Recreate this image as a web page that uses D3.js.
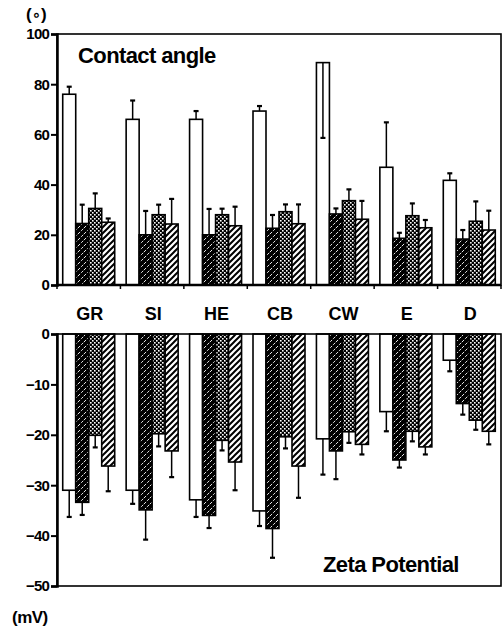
<!DOCTYPE html>
<html>
<head>
<meta charset="utf-8">
<script src="https://cdn.jsdelivr.net/npm/d3@7"></script>
<style>
  body { margin: 0; background: #fff; }
  svg { display: block; font-family: "Liberation Sans", Arial, sans-serif; font-weight: bold; }
</style>
</head>
<body>
<div id="chart"></div>
<script>
// categories (surfaces) and the four treatment series
const categories = ["GR", "SI", "HE", "CB", "CW", "E", "D"];
const seriesKeys = ["plain", "dark", "dots", "hatch"];

// contact angle (degrees) and SD
const contactPlain = [76, 66, 66, 69.3, 88.6, 46.9, 41.7];
const contactDark  = [24.5, 20, 20, 22.6, 28.3, 18.6, 18.3];
const contactDots  = [30.5, 28, 28, 29.2, 33.6, 27.6, 25.4];
const contactHatch = [25, 24.3, 23.6, 24.4, 26.2, 22.8, 21.9];
const contactPlainErr = [3, 7.5, 3.3, 2, -30, 17.9, 2.8];  // negative = drawn downward
const contactDarkErr  = [7.5, 9.5, 10.3, 5.3, 2.2, 2.2, 3.6];
const contactDotsErr  = [6, 4, 2.4, 2.9, 4.5, 4.9, 7.9];
const contactHatchErr = [1.5, 10, 7.6, 7.7, 7.3, 3.1, 7.7];

// zeta potential (mV) and SD
const zetaPlain = [-31, -31, -32.9, -35.1, -20.8, -15.4, -5.2];
const zetaDark  = [-33.4, -34.9, -36, -38.6, -23.2, -25, -13.8];
const zetaDots  = [-20.1, -19.8, -21.1, -20.4, -19.4, -19.3, -17.1];
const zetaHatch = [-26.2, -23.2, -25.4, -26.2, -21.9, -22.4, -19.3];
const zetaPlainErr = [5.3, 2.7, 3.4, 3, 7.1, 3.9, 2.2];
const zetaDarkErr  = [2.5, 5.9, 2.5, 5.8, 5.6, 1.5, 2.2];
const zetaDotsErr  = [2.4, 2.5, 2, 2.3, 2.2, 2, 1.9];
const zetaHatchErr = [5, 5.2, 5.6, 6.3, 2, 1.5, 2.6];

const contactTicks = [0, 20, 40, 60, 80, 100];
const zetaTicks = [-50, -40, -30, -20, -10, 0];

const W = 503, H = 632;
const svg = d3.select("#chart").append("svg").attr("width", W).attr("height", H);

// fill patterns
const defs = svg.append("defs");
const pDark = defs.append("pattern").attr("id", "p-dark").attr("patternUnits", "userSpaceOnUse")
  .attr("width", 6).attr("height", 6);
pDark.append("rect").attr("width", 6).attr("height", 6).attr("fill", "#000");
pDark.append("path").attr("d", "M0,6 L6,0 M-1,1 L1,-1 M5,7 L7,5")
  .attr("stroke", "#fff").attr("stroke-width", 0.9).attr("stroke-dasharray", "3,1.5");

const pDots = defs.append("pattern").attr("id", "p-dots").attr("patternUnits", "userSpaceOnUse")
  .attr("width", 4).attr("height", 4);
pDots.append("rect").attr("width", 4).attr("height", 4).attr("fill", "#000");
pDots.append("rect").attr("x", 0).attr("y", 0).attr("width", 1.6).attr("height", 1.6).attr("fill", "#fff");
pDots.append("rect").attr("x", 2).attr("y", 2).attr("width", 1.6).attr("height", 1.6).attr("fill", "#fff");

const pHatch = defs.append("pattern").attr("id", "p-hatch").attr("patternUnits", "userSpaceOnUse")
  .attr("width", 6).attr("height", 6);
pHatch.append("rect").attr("width", 6).attr("height", 6).attr("fill", "#fff");
pHatch.append("path").attr("d", "M0,6 L6,0 M-1,1 L1,-1 M5,7 L7,5")
  .attr("stroke", "#000").attr("stroke-width", 2);

const fills = { plain: "#fff", dark: "url(#p-dark)", dots: "url(#p-dots)", hatch: "url(#p-hatch)" };

// scales
const x = d3.scaleBand().domain(categories).range([57, 501]).padding(0);
const x1 = d3.scaleBand().domain(seriesKeys).range([0, x.bandwidth()]).paddingInner(0).paddingOuter(0.44);
const yTop = d3.scaleLinear().domain([0, 100]).range([285, 34]);
const yBot = d3.scaleLinear().domain([-50, 0]).range([586, 334]);

function rows(vals, errs) {
  const out = [];
  categories.forEach((c, i) => {
    seriesKeys.forEach((k, j) => out.push({ cat: c, key: k, v: vals[j][i], e: errs[j][i] }));
  });
  return out;
}

const contactRows = rows([contactPlain, contactDark, contactDots, contactHatch],
                         [contactPlainErr, contactDarkErr, contactDotsErr, contactHatchErr]);
const zetaRows = rows([zetaPlain, zetaDark, zetaDots, zetaHatch],
                      [zetaPlainErr, zetaDarkErr, zetaDotsErr, zetaHatchErr]);

function drawPanel(data, y, ticks, errSign) {
  const g = svg.append("g");
  const [y0, y1] = y.range();
  const cx = d => x(d.cat) + x1(d.key) + x1.bandwidth() / 2;
  const yEnd = d => y(d.v + errSign * d.e);

  // error bars that stick out of the bar go underneath it
  const outside = data.filter(d => d.e * errSign >= 0);
  const inside = data.filter(d => d.e * errSign < 0);

  function errBars(sel) {
    sel.append("line")
      .attr("x1", cx).attr("x2", cx)
      .attr("y1", d => y(d.v)).attr("y2", yEnd)
      .attr("stroke", "#000").attr("stroke-width", 1.5);
    sel.append("line")
      .attr("x1", d => cx(d) - 2.5).attr("x2", d => cx(d) + 2.5)
      .attr("y1", yEnd).attr("y2", yEnd)
      .attr("stroke", "#000").attr("stroke-width", 2.2);
  }

  errBars(g.selectAll(".eb").data(outside).enter().append("g"));

  g.selectAll(".bar").data(data).enter().append("rect")
    .attr("x", d => x(d.cat) + x1(d.key))
    .attr("width", x1.bandwidth())
    .attr("y", d => Math.min(y(0), y(d.v)))
    .attr("height", d => Math.abs(y(d.v) - y(0)))
    .attr("fill", d => fills[d.key])
    .attr("stroke", "#000").attr("stroke-width", 1.6);

  // downward error drawn inside the tall bar (CW)
  errBars(g.selectAll(".ebin").data(inside).enter().append("g"));

  // frame
  g.append("rect").attr("x", 57).attr("y", Math.min(y0, y1))
    .attr("width", 444).attr("height", Math.abs(y0 - y1))
    .attr("fill", "none").attr("stroke", "#000").attr("stroke-width", 1.6);

  const ax = g.append("g").attr("transform", "translate(57,0)")
    .call(d3.axisLeft(y).tickValues(ticks).tickSize(6).tickPadding(2).tickFormat(d3.format("d")));
  ax.select(".domain").attr("stroke-width", 2.5);
  ax.selectAll(".tick line").attr("stroke-width", 2);
  ax.selectAll("text").attr("font-size", 15).attr("font-weight", "bold")
    .attr("font-family", "'Liberation Sans', Arial, sans-serif").attr("fill", "#000")
    .style("letter-spacing", "-0.8px");
  return g;
}

const topPanel = drawPanel(contactRows, yTop, contactTicks, 1);
drawPanel(zetaRows, yBot, zetaTicks, -1);

// x-axis ticks at group boundaries under the contact-angle panel
const bounds = categories.map(c => x(c)).concat([x.range()[1]]);
topPanel.selectAll(".xt").data(bounds).enter().append("line")
  .attr("x1", d => d).attr("x2", d => d)
  .attr("y1", yTop(0)).attr("y2", yTop(0) + 4)
  .attr("stroke", "#000").attr("stroke-width", 1.5);
topPanel.append("line").attr("x1", 57).attr("x2", 501).attr("y1", yTop(0)).attr("y2", yTop(0))
  .attr("stroke", "#000").attr("stroke-width", 2.5);

// category labels
svg.selectAll(".cat").data(categories).enter().append("text")
  .attr("x", d => x(d) + x.bandwidth() / 2 + 1)
  .attr("y", 320)
  .attr("text-anchor", "middle")
  .attr("font-size", 18)
  .text(d => d);

// titles and units
svg.append("text").attr("x", 78).attr("y", 63).attr("font-size", 22).style("letter-spacing", "-0.6px").text("Contact angle");
svg.append("text").attr("x", 323).attr("y", 572).attr("font-size", 22).style("letter-spacing", "-0.6px").text("Zeta Potential");
const unitDeg = svg.append("text").attr("x", 26).attr("y", 20).attr("font-size", 17);
unitDeg.append("tspan").text("(");
unitDeg.append("tspan").attr("font-family", "DejaVu Sans").attr("font-size", 15).text("∘");
unitDeg.append("tspan").text(")");
svg.append("text").attr("x", 12).attr("y", 623).attr("font-size", 17).style("letter-spacing", "-0.5px").text("(mV)");
</script>
</body>
</html>
